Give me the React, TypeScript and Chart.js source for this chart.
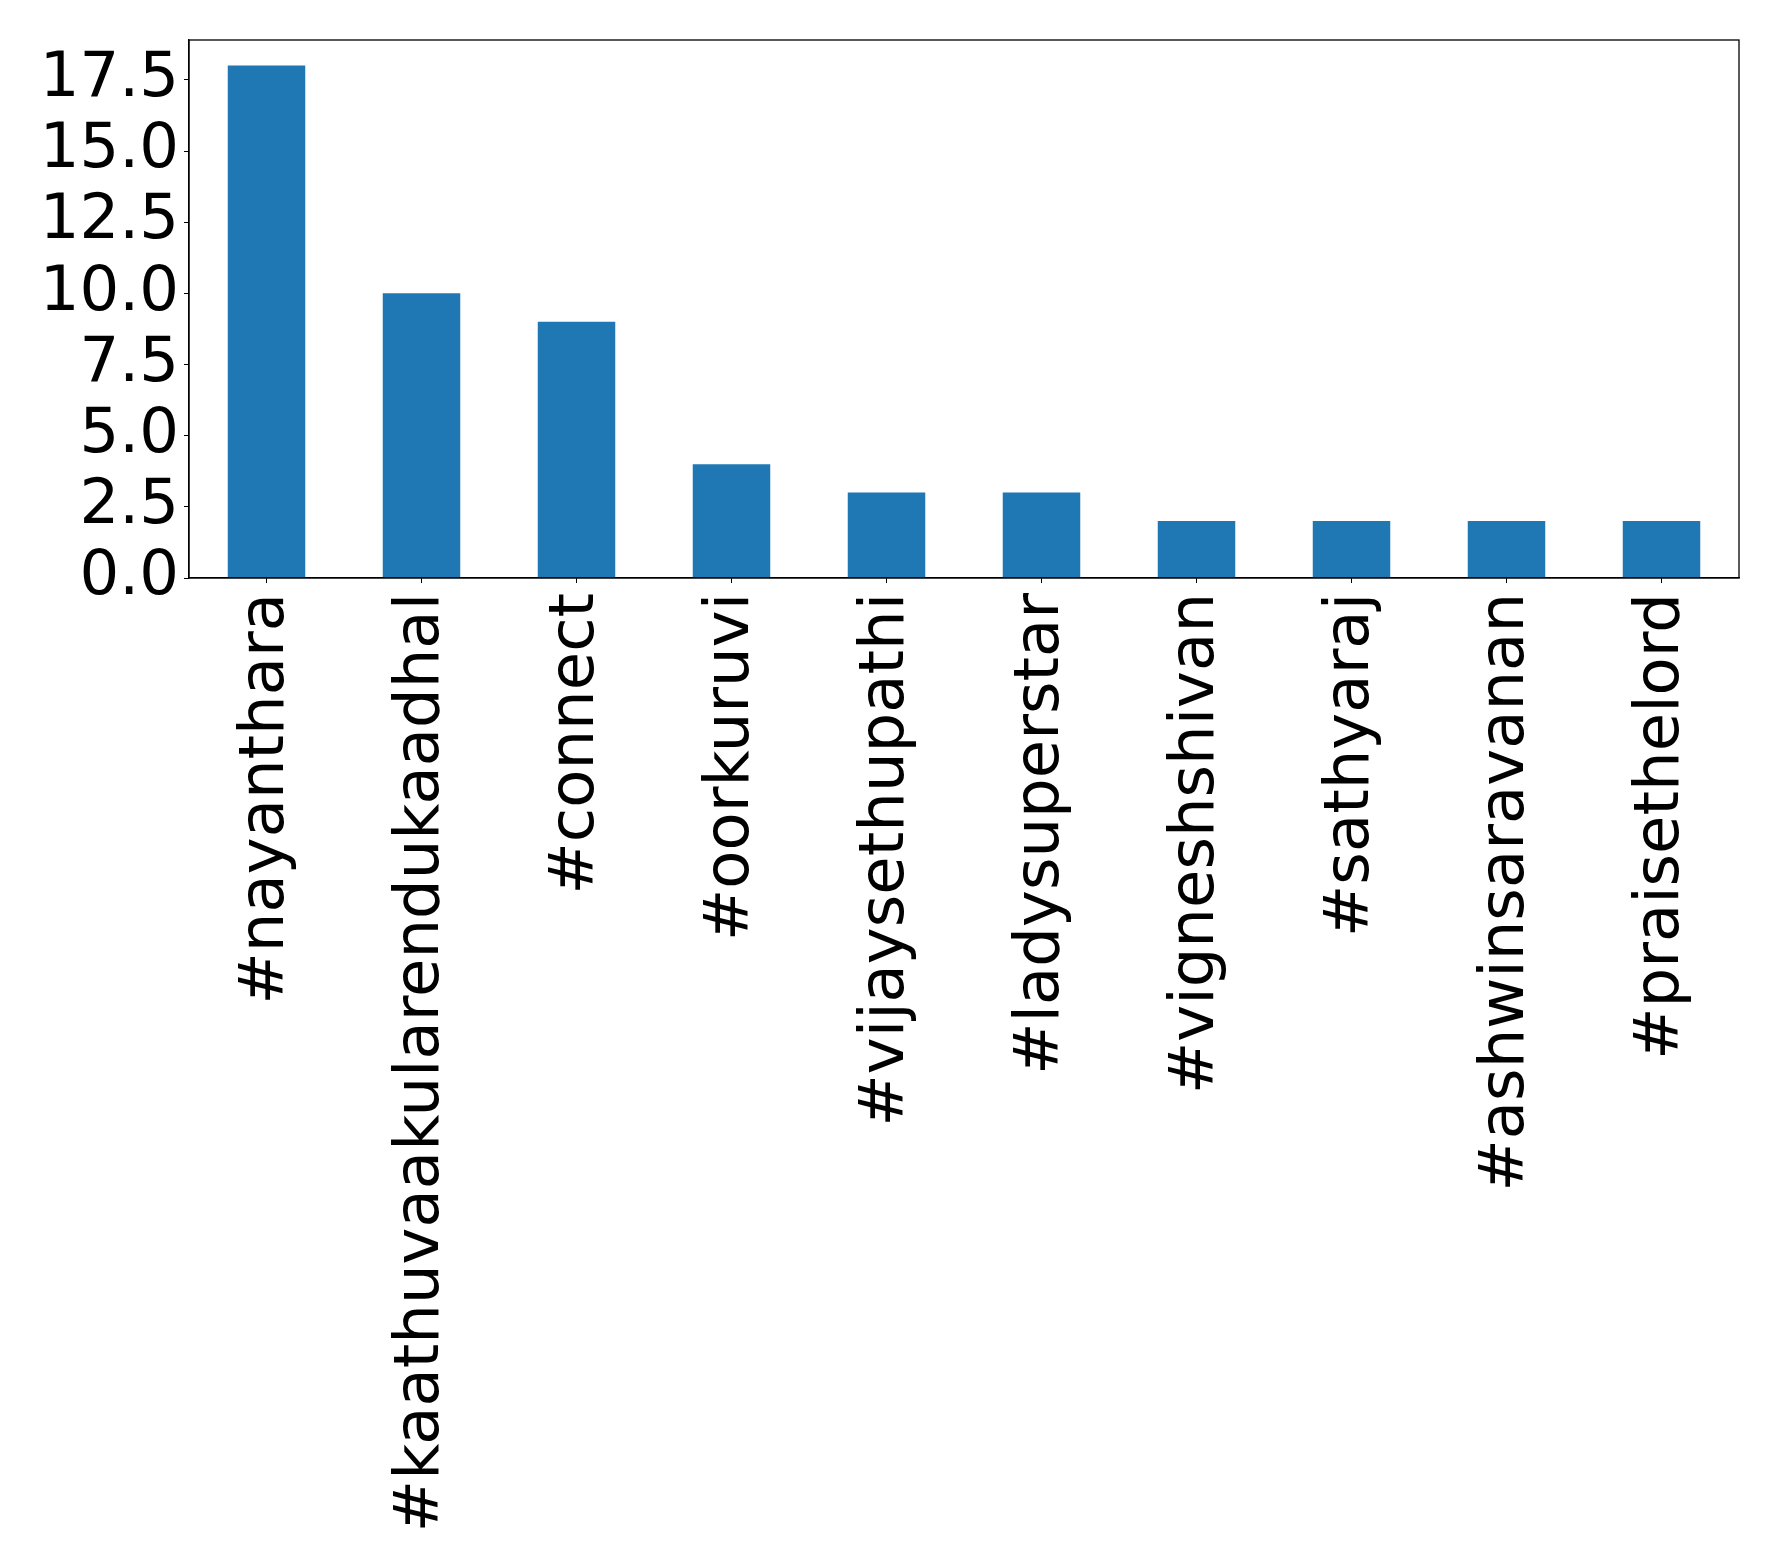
import { useEffect, useRef } from "react";
import { Chart, registerables } from "chart.js";

Chart.register(...registerables);

const hashtags = [
  "#nayanthara",
  "#kaathuvaakularendukaadhal",
  "#connect",
  "#oorkuruvi",
  "#vijaysethupathi",
  "#ladysuperstar",
  "#vigneshshivan",
  "#sathyaraj",
  "#ashwinsaravanan",
  "#praisethelord",
];
const counts = [18, 10, 9, 4, 3, 3, 2, 2, 2, 2];

const BAR_COLOR = "#1f77b4";
const FONT = { family: "'DejaVu Sans', sans-serif", size: 62.5 };

// matplotlib-style box around the plot area
const frame = {
  id: "frame",
  afterDraw(chart: Chart) {
    const { ctx, chartArea: a } = chart;
    ctx.save();
    ctx.strokeStyle = "#000";
    ctx.lineWidth = 1.3;
    ctx.strokeRect(a.left, a.top, a.right - a.left, a.bottom - a.top);
    ctx.restore();
  },
};

export default function App() {
  const canvasRef = useRef<HTMLCanvasElement | null>(null);

  useEffect(() => {
    document.body.style.margin = "0";
    if (!canvasRef.current) return;

    const chart = new Chart(canvasRef.current, {
      type: "bar",
      data: {
        labels: hashtags,
        datasets: [
          {
            data: counts,
            backgroundColor: BAR_COLOR,
            barPercentage: 0.5,
            categoryPercentage: 1.0,
          },
        ],
      },
      plugins: [frame],
      options: {
        responsive: true,
        maintainAspectRatio: false,
        animation: false,
        layout: { padding: { top: 40, right: 39, left: 0, bottom: 0 } },
        plugins: {
          legend: { display: false },
          tooltip: { enabled: false },
        },
        scales: {
          x: {
            offset: true,
            grid: {
              display: true,
              offset: false,
              drawOnChartArea: false,
              drawTicks: true,
              tickLength: 5,
              color: "#000",
            },
            border: { display: true, color: "#000", width: 1.3 },
            ticks: {
              autoSkip: false,
              maxRotation: 90,
              minRotation: 90,
              padding: 10,
              color: "#000",
              font: FONT,
            },
            afterFit(scale: any) {
              scale.height = 988;
            },
          },
          y: {
            min: 0,
            max: 18.9,
            grid: {
              display: true,
              drawOnChartArea: false,
              drawTicks: true,
              tickLength: 5,
              color: "#000",
            },
            border: { display: true, color: "#000", width: 1.3 },
            ticks: {
              stepSize: 2.5,
              autoSkip: false,
              includeBounds: false,
              padding: 5,
              color: "#000",
              font: FONT,
              callback: (v: any) => Number(v).toFixed(1),
            },
            afterFit(scale: any) {
              scale.width = 189;
              scale.paddingTop = 0;
              scale.paddingBottom = 0;
            },
          },
        },
      },
    });

    return () => {
      chart.destroy();
    };
  }, []);

  return (
    <div style={{ width: 1778, height: 1566, position: "relative" }}>
      <canvas ref={canvasRef} />
    </div>
  );
}
